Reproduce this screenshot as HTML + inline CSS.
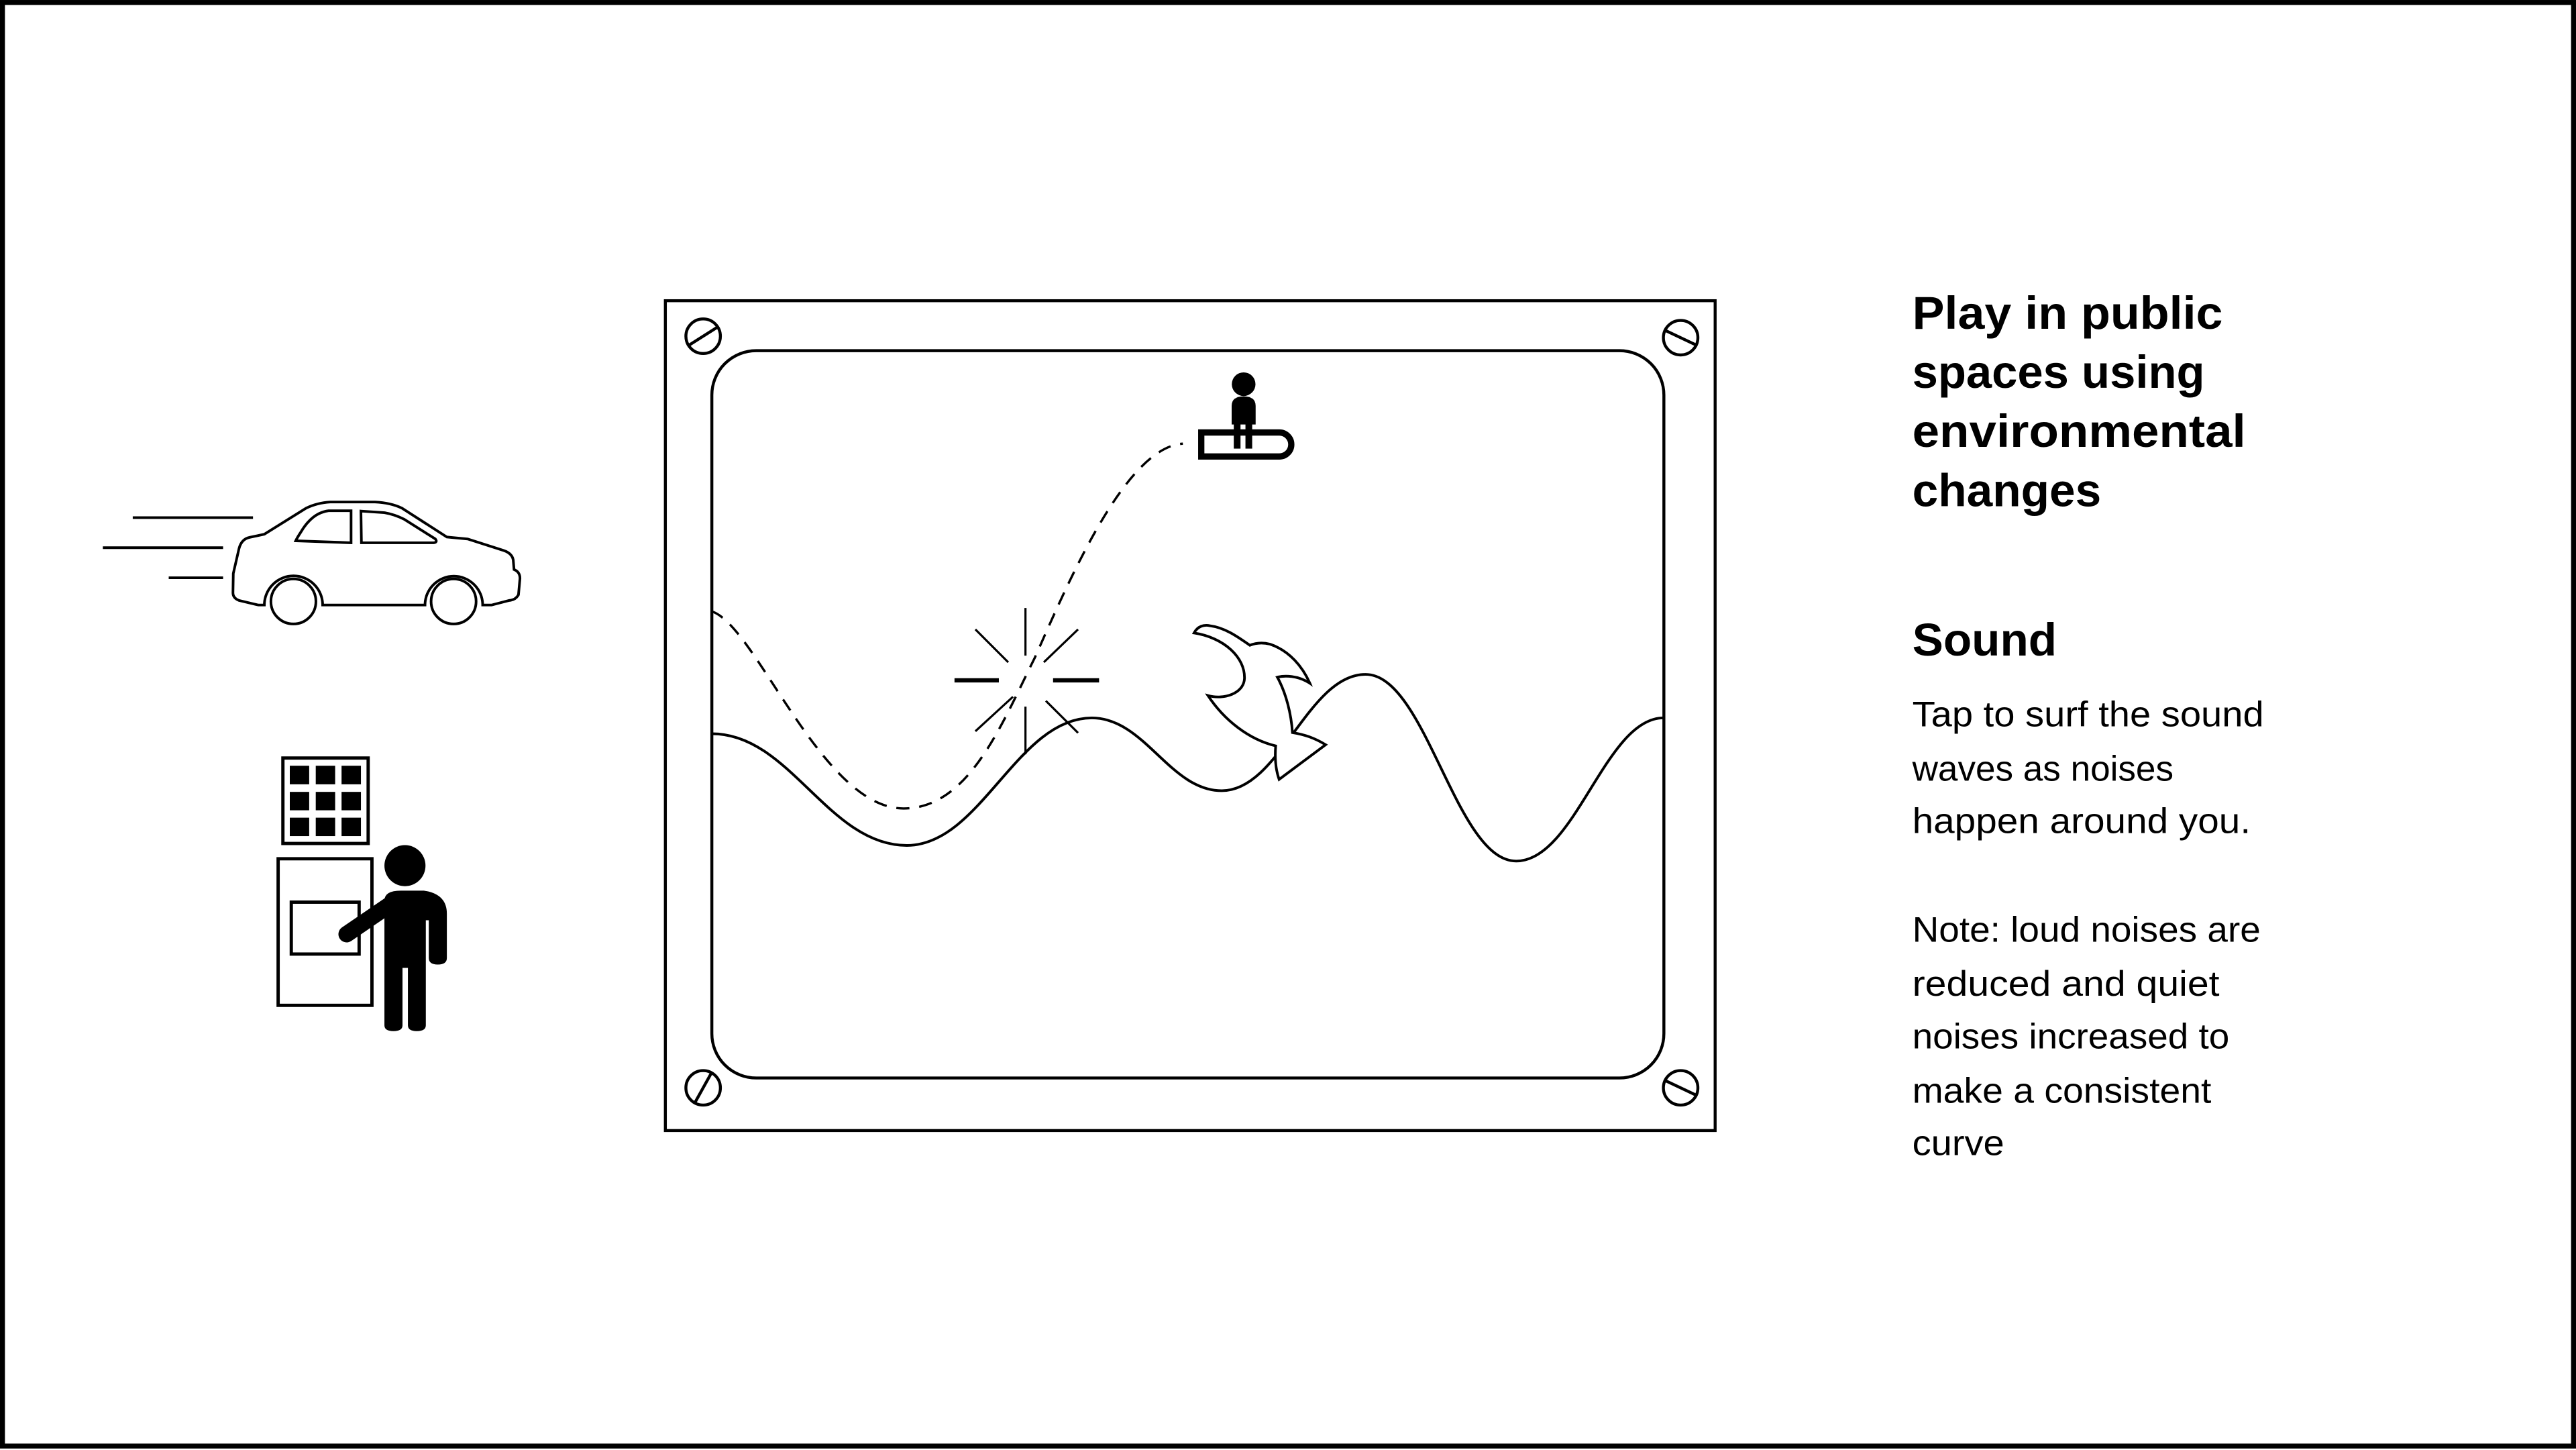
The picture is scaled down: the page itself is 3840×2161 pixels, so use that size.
<!DOCTYPE html>
<html><head><meta charset="utf-8"><style>
html,body{margin:0;padding:0;background:#fff;}
svg{display:block;}
text{font-family:"Liberation Sans",sans-serif;fill:#000;}
.h{font-weight:bold;font-size:28px;}
.b{font-size:21.5px;}
</style></head><body>
<svg width="3840" height="2161" viewBox="0 0 1568 882.4" xmlns="http://www.w3.org/2000/svg">
<rect x="0" y="0" width="1568" height="882.4" fill="#fff"/>
<rect x="1.5" y="1.5" width="1565" height="878.5" fill="none" stroke="#000" stroke-width="3"/>

<!-- frame -->
<rect x="405" y="183" width="639" height="505" fill="none" stroke="#000" stroke-width="1.8"/>
<rect x="433.3" y="213.4" width="579.5" height="442.6" rx="27" fill="none" stroke="#000" stroke-width="1.8"/>
<g fill="none" stroke="#000" stroke-width="1.8">
<circle cx="428" cy="204.6" r="10.5"/><line x1="419.5" y1="210" x2="436.5" y2="199.2"/>
<circle cx="1023" cy="205.5" r="10.5"/><line x1="1013.5" y1="201" x2="1032.5" y2="210"/>
<circle cx="428" cy="662" r="10.5"/><line x1="423" y1="671" x2="433" y2="653"/>
<circle cx="1023" cy="662" r="10.5"/><line x1="1013.5" y1="657.5" x2="1032.5" y2="666.5"/>
</g>

<!-- wave -->
<path d="M433.3,446.5 C481,446.5 504,514.5 552,514.5 C597,514.5 619,436.9 664.6,436.9 C697,436.9 712,481.2 743.7,481.2 C779,481.2 796,410.4 831.2,410.4 C868,410.4 886,524 922.9,524 C959,524 977,436.9 1012.5,436.9" fill="none" stroke="#000" stroke-width="1.6"/>
<!-- dashed trajectory -->
<path d="M433,372 C460,380 500,492 550,492 C590,492 610,440 630,400 C650,355 685,272 720,270" fill="none" stroke="#000" stroke-width="1.4" stroke-dasharray="8,6"/>

<!-- burst -->
<g stroke="#000" fill="none">
<line x1="581" y1="414" x2="608" y2="414" stroke-width="2.6"/>
<line x1="641" y1="414" x2="669" y2="414" stroke-width="2.6"/>
<line x1="624.2" y1="370" x2="624.2" y2="399" stroke-width="1.3"/>
<line x1="624.2" y1="430" x2="624.2" y2="459" stroke-width="1.3"/>
<line x1="593.7" y1="383" x2="613.7" y2="403" stroke-width="1.3"/>
<line x1="635.4" y1="403" x2="656.2" y2="383" stroke-width="1.3"/>
<line x1="616.6" y1="424" x2="593.7" y2="445" stroke-width="1.3"/>
<line x1="636.6" y1="426.5" x2="656.2" y2="446" stroke-width="1.3"/>
</g>

<!-- crest -->
<path d="M726.8,385.2 C729,381 733,380 736.4,380.8 C746,382 754,388 760.8,392.7 C765,391 769,391 773,392 C785,396 793,406 797.3,415.8 C790,411 782,411 777.5,412.1 C783,422 786,435 786.7,445.8 C794,447 800,449 806.9,453.2 L778.6,474.3 C776,467 776,460 776.5,453.9 C760,450 745,438 735.3,423.3 C745,426 757,422 757.5,413 C758,400 745,388 726.8,385.2 Z" fill="#fff" stroke="#000" stroke-width="1.6" stroke-linejoin="miter"/>

<!-- surfer -->
<circle cx="757" cy="233.8" r="7.2" fill="#000"/>
<path d="M749.7,258.3 V247 Q749.7,241.2 757,241.2 Q764.3,241.2 764.3,247 V258.3 Z" fill="#000"/>
<rect x="751" y="258" width="4.1" height="15" fill="#000"/>
<rect x="758.1" y="258" width="4.1" height="15" fill="#000"/>
<path d="M731.2,263.2 H778.7 A7.3,7.3 0 0 1 778.7,277.8 H731.2 Z" fill="none" stroke="#000" stroke-width="3.8"/>

<!-- car -->
<g fill="none" stroke="#000" stroke-width="1.6">
<line x1="80.8" y1="315" x2="154" y2="315"/>
<line x1="62.6" y1="333.3" x2="135.8" y2="333.3"/>
<line x1="102.7" y1="351.6" x2="135.8" y2="351.6"/>
<path d="M142,349 L145.5,333.8 Q147,328 152,327 L160.9,325.1 L186.4,309.2 Q193,306 201,305.5 L228.3,305.5 Q238,306 244.6,309.2 L272,326.8 L284.7,328 L306.5,335 Q312.5,337 312.5,342 L312.9,346.6 Q316.5,348 316.5,352 L315.6,361.9 Q314,365 310,365.4 L299.2,368.2 L293.8,368.2 A17.3,17.3 0 0 0 258.7,368.2 L196.4,368.2 A17.3,17.3 0 0 0 160.9,368.2 L157.3,368.2 L145.5,365.4 Q141.8,364 141.8,360.7 Z"/>
<circle cx="178.6" cy="366" r="13.7"/>
<circle cx="276.1" cy="366" r="13.7"/>
<path d="M180,329.1 Q181,327 183,324 Q190,312 200,310.8 L213.7,310.8 L213.7,330.3 Z"/>
<path d="M219.7,311 L234,312 Q240,313 246,316 L265,328 Q266.5,330 264,330.3 L220,330.3 Z"/>
</g>

<!-- kiosk -->
<rect x="172.2" y="461.3" width="51.9" height="52" fill="none" stroke="#000" stroke-width="2"/>
<g fill="#000">
<rect x="176.4" y="466" width="11.8" height="11.3"/><rect x="192.2" y="466" width="11.8" height="11.3"/><rect x="207.9" y="466" width="11.8" height="11.3"/>
<rect x="176.4" y="481.9" width="11.8" height="11.2"/><rect x="192.2" y="481.9" width="11.8" height="11.2"/><rect x="207.9" y="481.9" width="11.8" height="11.2"/>
<rect x="176.4" y="497.6" width="11.8" height="11.2"/><rect x="192.2" y="497.6" width="11.8" height="11.2"/><rect x="207.9" y="497.6" width="11.8" height="11.2"/>
</g>
<rect x="169.3" y="522.6" width="57.1" height="89.2" fill="none" stroke="#000" stroke-width="2"/>
<rect x="177.3" y="549" width="41.3" height="31.6" fill="none" stroke="#000" stroke-width="2"/>
<!-- person -->
<circle cx="246.5" cy="526.8" r="12.5" fill="#000"/>
<path d="M234,548 Q234,542 244,542 H258 Q272,544 272,556 V583 Q272,587 266.5,587 Q261,587 261,583 V560 H259.2 V624 Q259.2,627.5 253.7,627.5 Q248.3,627.5 248.3,624 V589 H245 V624 Q245,627.5 239.5,627.5 Q234,627.5 234,624 Z" fill="#000"/>
<line x1="241" y1="548" x2="211" y2="568.5" stroke="#000" stroke-width="10" stroke-linecap="round"/>

<!-- text -->
<text class="h" x="1164" y="200" textLength="189" lengthAdjust="spacingAndGlyphs">Play in public</text>
<text class="h" x="1164" y="236" textLength="178" lengthAdjust="spacingAndGlyphs">spaces using</text>
<text class="h" x="1164" y="272" textLength="203" lengthAdjust="spacingAndGlyphs">environmental</text>
<text class="h" x="1164" y="308" textLength="115" lengthAdjust="spacingAndGlyphs">changes</text>
<text class="h" x="1164" y="399" textLength="88" lengthAdjust="spacingAndGlyphs">Sound</text>
<text class="b" x="1164" y="442" textLength="214" lengthAdjust="spacingAndGlyphs">Tap to surf the sound</text>
<text class="b" x="1164" y="475" textLength="159" lengthAdjust="spacingAndGlyphs">waves as noises</text>
<text class="b" x="1164" y="507" textLength="206" lengthAdjust="spacingAndGlyphs">happen around you.</text>
<text class="b" x="1164" y="573" textLength="212" lengthAdjust="spacingAndGlyphs">Note: loud noises are</text>
<text class="b" x="1164" y="606" textLength="187" lengthAdjust="spacingAndGlyphs">reduced and quiet</text>
<text class="b" x="1164" y="638" textLength="193" lengthAdjust="spacingAndGlyphs">noises increased to</text>
<text class="b" x="1164" y="671" textLength="182" lengthAdjust="spacingAndGlyphs">make a consistent</text>
<text class="b" x="1164" y="703" textLength="56" lengthAdjust="spacingAndGlyphs">curve</text>
</svg>
</body></html>
